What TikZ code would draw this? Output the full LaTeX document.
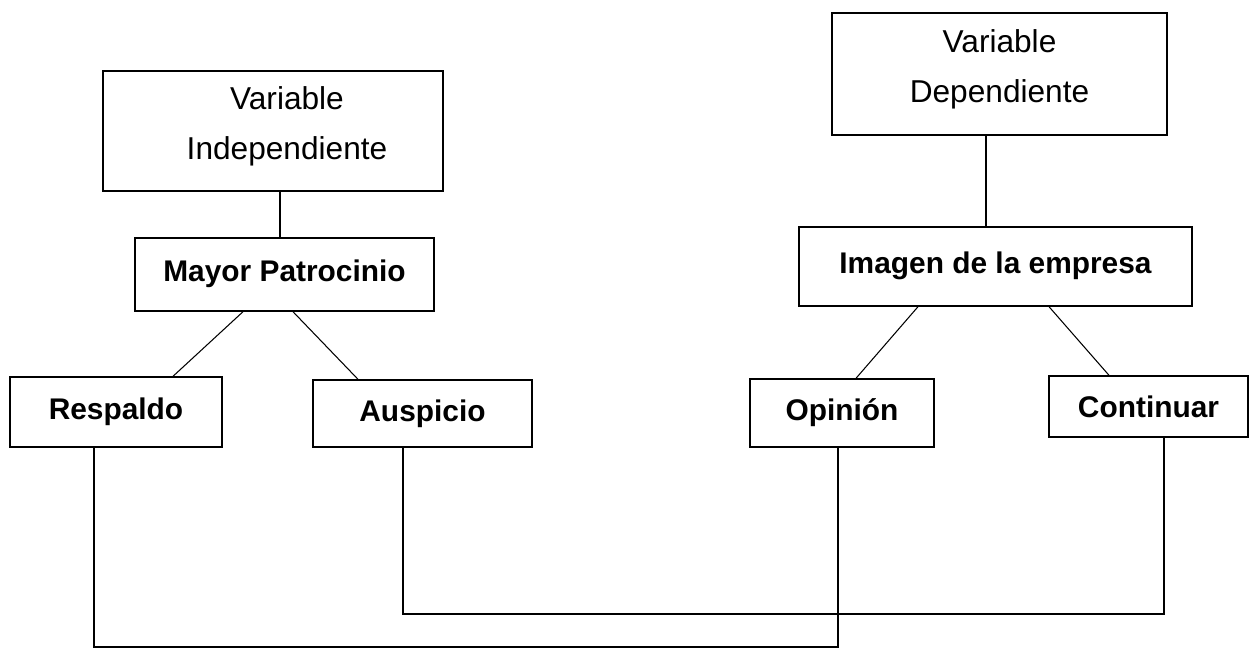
\documentclass[tikz,border=0pt]{standalone}
\usepackage{fontspec}
\setmainfont{Liberation Sans}

\begin{document}
\begin{tikzpicture}
        [box/.style={draw, line width=0.8pt, inner sep=0pt, align=center,
                     font=\fontsize{17}{28.5}\selectfont\bfseries},
        varbox/.style={box, font=\fontsize{18}{28.5}\selectfont, text depth=0.33cm},
        raised/.style={text height=0.5cm, text depth=0.23cm},
        link/.style={line width=0.6pt}]

    \useasboundingbox (0,0) rectangle (25.06,-12.96);

    \node[varbox, minimum width=6.8cm, minimum height=2.4cm] (vind) at (5.46,-2.62)
        {\hspace*{0.56cm}Variable\\\hspace*{0.56cm}Independiente};
    \node[varbox, minimum width=6.7cm, minimum height=2.44cm] (vdep) at (19.99,-1.48) {Variable\\Dependiente};

    \node[box, raised, minimum width=5.98cm, minimum height=1.46cm] (mayor) at (5.69,-5.49) {Mayor Patrocinio};
    \node[box, raised, minimum width=7.86cm, minimum height=1.58cm] (imagen) at (19.91,-5.33) {Imagen de la empresa};

    \node[box, minimum width=4.24cm, minimum height=1.4cm] (resp) at (2.32,-8.24) {Respaldo};
    \node[box, minimum width=4.38cm, minimum height=1.34cm] (ausp) at (8.45,-8.27) {Auspicio};
    \node[box, minimum width=3.68cm, minimum height=1.36cm] (opin) at (16.84,-8.26) {Opinión};
    \node[box, minimum width=3.98cm, minimum height=1.22cm] (cont) at (22.97,-8.13) {Continuar};

    \coordinate (low1) at (0,-12.94);
    \coordinate (low2) at (0,-12.28);
    \coordinate (o1) at ([xshift=-0.08cm]opin.south);
    \coordinate (c1) at ([xshift=0.31cm]cont.south);

    \draw[link] ([xshift=-0.09cm]mayor.north) -- ([xshift=-0.09cm]mayor.north |- vind.south);
    \draw[link] ([xshift=-0.19cm]imagen.north) -- ([xshift=-0.19cm]imagen.north |- vdep.south);

    \draw[link] ([xshift=-0.83cm]mayor.south) -- ([xshift=1.14cm]resp.north);
    \draw[link] ([xshift=0.17cm]mayor.south) -- ([xshift=-1.29cm]ausp.north);
    \draw[link] ([xshift=-1.55cm]imagen.south) -- ([xshift=0.28cm]opin.north);
    \draw[link] ([xshift=1.07cm]imagen.south) -- ([xshift=-0.79cm]cont.north);

    \draw[link] ([xshift=-0.44cm]resp.south) |- (low1 -| o1) -- (o1);
    \draw[link] ([xshift=-0.39cm]ausp.south) |- (low2 -| c1) -- (c1);
\end{tikzpicture}
\end{document}
